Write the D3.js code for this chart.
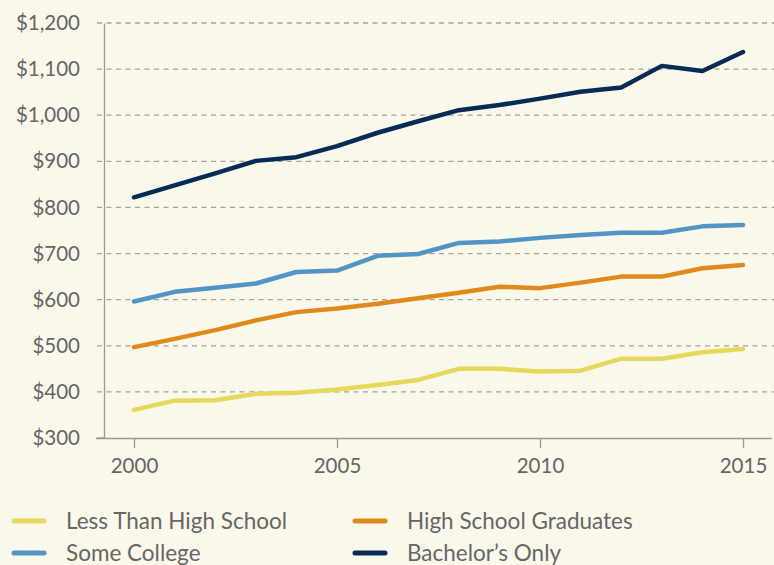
<!DOCTYPE html>
<html>
<head>
<meta charset="utf-8">
<script src="https://cdn.jsdelivr.net/npm/d3@7"></script>
<style>
  body { margin: 0; background: #faf8ea; }
  svg { display: block; }
  .tick text { font-family: Lato, "Open Sans", sans-serif; fill: #666; }
</style>
</head>
<body>
<div id="chart"></div>
<script type="text/javascript">
// data (median weekly earnings, by year)
var years = [2000, 2001, 2002, 2003, 2004, 2005, 2006, 2007, 2008, 2009, 2010, 2011, 2012, 2013, 2014, 2015];
var lessThanHS = [361, 381, 382, 396, 398, 405, 415, 426, 450, 450, 444, 446, 472, 472, 486, 493];
var hsGrads = [497, 515, 534, 555, 573, 581, 591, 603, 615, 628, 625, 637, 650, 650, 668, 675];
var someCollege = [596, 617, 626, 635, 660, 663, 695, 699, 723, 726, 734, 740, 745, 745, 759, 762];
var bachelors = [822, 848, 874, 901, 909, 933, 962, 987, 1011, 1022, 1036, 1051, 1060, 1107, 1096, 1137];
var seriesNames = ["Less Than High School", "High School Graduates", "Some College", "Bachelor\u2019s Only"];
var seriesColors = ["#e6d85c", "#e08a1c", "#5294c3", "#062c56"];
var xTicks = [2000, 2005, 2010, 2015];
var yTicks = [300, 400, 500, 600, 700, 800, 900, 1000, 1100, 1200];

var allSeries = [lessThanHS, hsGrads, someCollege, bachelors];

var W = 774, H = 565;

var svg = d3.select("#chart").append("svg")
    .attr("width", W)
    .attr("height", H);

svg.append("rect").attr("width", W).attr("height", H).attr("fill", "#faf8ea");

// set the ranges
var x = d3.scaleLinear().domain([2000, 2015]).range([134, 743]);
var y = d3.scaleLinear().domain([300, 1200]).range([438, 23]);

// dashed gridlines
svg.append("g")
  .selectAll("line")
  .data(yTicks.slice(1))
  .enter().append("line")
    .attr("x1", 97).attr("x2", W)
    .attr("y1", function(d) { return y(d); })
    .attr("y2", function(d) { return y(d); })
    .attr("stroke", "#a3a3a0")
    .attr("stroke-width", 1.3)
    .attr("stroke-dasharray", "5,4.5");

// Y axis
var yAxis = svg.append("g")
    .attr("transform", "translate(104,0)")
    .call(d3.axisLeft(y).tickValues(yTicks).tickSize(0).tickPadding(24)
      .tickFormat(function(d) { return "$" + d3.format(",")(d); }));
yAxis.select(".domain").attr("stroke", "#999").attr("stroke-width", 1.3);
yAxis.selectAll(".tick text").attr("font-size", 20.5);

// short tick stub at the $300 line
svg.append("line").attr("x1", 97).attr("x2", 104)
  .attr("y1", y(300)).attr("y2", y(300)).attr("stroke", "#999").attr("stroke-width", 1.3);

// X axis
var xAxis = svg.append("g")
    .attr("transform", "translate(0,438)")
    .call(d3.axisBottom(x).tickValues(xTicks).tickSize(10).tickPadding(10)
      .tickFormat(d3.format("d")));
xAxis.select(".domain").attr("d", "M96,0.5H772").attr("stroke", "#999").attr("stroke-width", 1.3);
xAxis.selectAll(".tick line").attr("stroke", "#999").attr("stroke-width", 1.3);
xAxis.selectAll(".tick text").attr("font-size", 20.5);

// lines
var valueline = d3.line()
    .x(function(d, i) { return x(years[i]); })
    .y(function(d) { return y(d); });

svg.append("g")
  .selectAll("path")
  .data(allSeries)
  .enter().append("path")
    .attr("d", valueline)
    .attr("fill", "none")
    .attr("stroke", function(d, i) { return seriesColors[i]; })
    .attr("stroke-width", 4.5)
    .attr("stroke-linecap", "round")
    .attr("stroke-linejoin", "round");

// legend
var legend = svg.append("g")
  .selectAll("g")
  .data(seriesNames)
  .enter().append("g")
    .attr("transform", function(d, i) {
      return "translate(" + (i % 2 === 0 ? 14 : 355) + "," + (i < 2 ? 521 : 553) + ")";
    });

legend.append("line")
    .attr("x1", 0).attr("x2", 30)
    .attr("stroke", function(d, i) { return seriesColors[i]; })
    .attr("stroke-width", 5)
    .attr("stroke-linecap", "round");

legend.append("text")
    .attr("x", 52)
    .attr("dy", "0.35em")
    .attr("font-family", "Lato, 'Open Sans', sans-serif")
    .attr("font-size", 22.5)
    .attr("fill", "#666")
    .text(function(d) { return d; });
</script>
</body>
</html>
